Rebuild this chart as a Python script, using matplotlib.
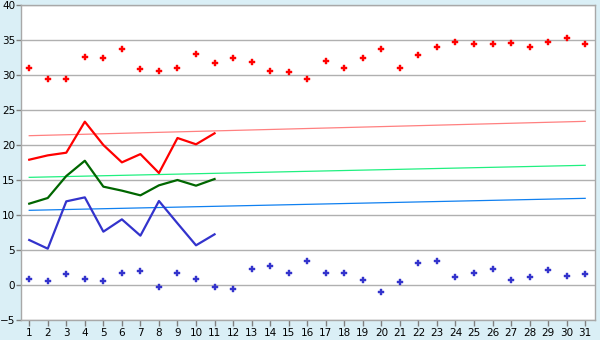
import matplotlib
matplotlib.use("Agg")
import matplotlib.pyplot as plt
import numpy as np

days = list(range(1, 32))
days_line = list(range(1, 12))

red_points = [31.0, 29.4, 29.5, 32.5, 32.4, 33.7, 30.8, 30.6, 31.0, 33.0, 31.7,
              32.4, 31.9, 30.6, 30.5, 29.4, 31.95, 31.0, 32.4, 33.7, 31.0, 32.8,
              33.95, 34.67, 34.38, 34.38, 34.52, 33.95, 34.67, 35.24, 34.38]
blue_points = [0.81, 0.52, 1.52, 0.81, 0.52, 1.67, 1.95, -0.33, 1.67, 0.81, -0.33,
               -0.62, 2.24, 2.67, 1.67, 3.38, 1.67, 1.67, 0.67, -1.05, 0.38, 3.1,
               3.38, 1.1, 1.67, 2.24, 0.67, 1.1, 2.1, 1.24, 1.52]
red_line = [17.9, 18.52, 18.9, 23.33, 20.0, 17.52, 18.7, 16.0, 21.0, 20.1, 21.67]
green_line = [11.62, 12.43, 15.57, 17.75, 14.05, 13.48, 12.81, 14.24, 15.0, 14.19, 15.14]
blue_line = [6.43, 5.19, 11.95, 12.52, 7.62, 9.38, 7.05, 12.0, 8.81, 5.67, 7.24]

red_trend = [21.33, 23.38]
green_trend = [15.38, 17.1]
blue_trend = [10.67, 12.38]
trend_x = [1, 31]

yticks = list(range(-5, 41, 5))

bg = "#daeff6"
fig = plt.figure(figsize=(6, 3.4), dpi=100, facecolor=bg)
ax = fig.add_axes([0.0345, 0.0588, 0.9575, 0.9265])
ax.set_facecolor("white")

for y in yticks:
    ax.axhline(y, color="#b0b0b0", lw=1.0, zorder=1)

ax.plot(trend_x, red_trend, color="#ff8080", lw=0.9, zorder=2)
ax.plot(trend_x, green_trend, color="#20f080", lw=0.9, zorder=2)
ax.plot(trend_x, blue_trend, color="#1080f0", lw=0.9, zorder=2)

ax.plot(days_line, red_line, color="#ff0000", lw=1.6, zorder=3)
ax.plot(days_line, green_line, color="#006600", lw=1.6, zorder=3)
ax.plot(days_line, blue_line, color="#3333cc", lw=1.6, zorder=3)

ax.plot(days, red_points, ls="none", marker="P", ms=4.8, color="#ff0000",
        mec="#ff0000", mew=0.3, zorder=4)
ax.plot(days, blue_points, ls="none", marker="P", ms=4.8, color="#3333cc",
        mec="#3333cc", mew=0.3, zorder=4)

ax.set_xlim(0.54, 31.54)
ax.set_ylim(-5, 40)
ax.set_xticks(days)
ax.set_yticks(yticks)
ax.tick_params(axis="x", labelsize=7.5, color="#808080", length=4, width=1,
               pad=2, labelcolor="#000000")
ax.tick_params(axis="y", labelsize=7.5, color="#808080", length=3.5, width=1,
               pad=0.5, labelcolor="#000000")
for s in ax.spines.values():
    s.set_color("#a8a8a8")
    s.set_linewidth(1.0)

fig.savefig("out.png", dpi=100, facecolor=bg)
